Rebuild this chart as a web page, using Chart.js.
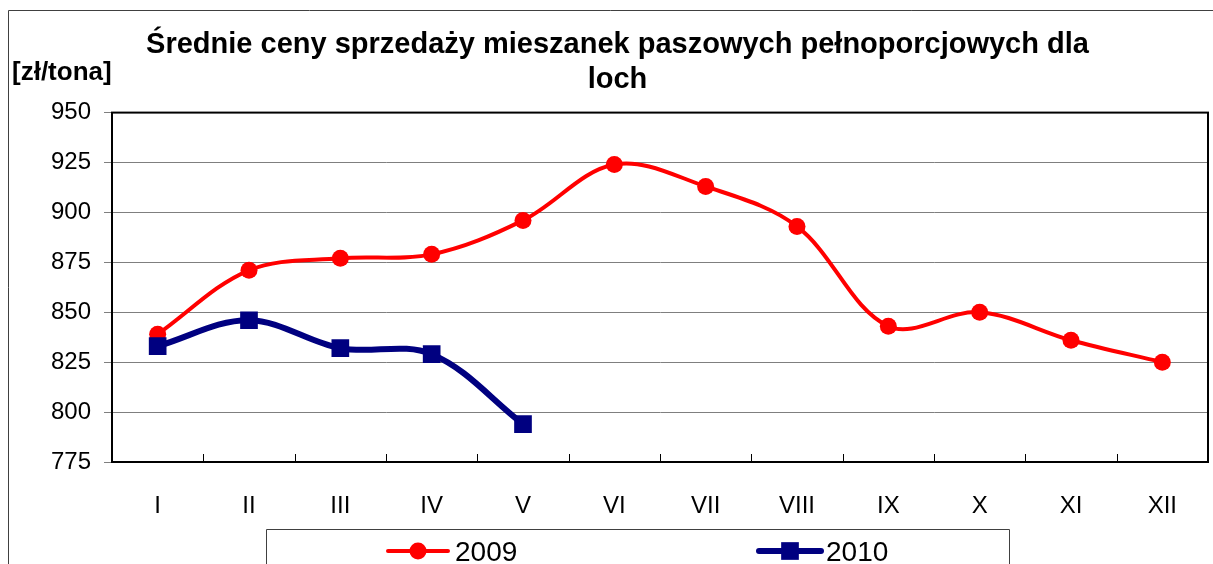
<!DOCTYPE html>
<html>
<head>
<meta charset="utf-8">
<script src="https://cdn.jsdelivr.net/npm/chart.js@4.4.1/dist/chart.umd.min.js"></script>
<style>
    html, body { margin: 0; padding: 0; background: #fff; }
    #wrap { position: relative; width: 1213px; height: 564px; }
</style>
</head>
<body>
<div id="wrap"><canvas id="priceChart"></canvas></div>
<script>
// dane (zł/tona)
const months = ['I', 'II', 'III', 'IV', 'V', 'VI', 'VII', 'VIII', 'IX', 'X', 'XI', 'XII'];
const prices2009 = [839, 871, 877, 879, 896, 924, 913, 893, 843, 850, 836, 825];
const prices2010 = [833, 846, 832, 829, 794, null, null, null, null, null, null, null];
const seriesNames = ['2009', '2010'];
const yMin = 775;
const yMax = 950;
const yStep = 25;

const FONT = "'Liberation Sans', Arial, sans-serif";

// ramka, opis osi, krótkie znaczniki osi X i legenda w ramce
const decorPlugin = {
    id: 'decor',
    beforeDraw(chart) {
        const ctx = chart.ctx;
        ctx.save();
        ctx.strokeStyle = '#404040';
        ctx.lineWidth = 1;
        ctx.beginPath();
        ctx.moveTo(8.5, chart.height);
        ctx.lineTo(8.5, 10.5);
        ctx.lineTo(chart.width, 10.5);
        ctx.stroke();

        ctx.fillStyle = '#000';
        ctx.font = 'bold 26px ' + FONT;
        ctx.textAlign = 'left';
        ctx.textBaseline = 'middle';
        ctx.fillText('[zł/tona]', 12, 73);
        ctx.restore();
    },
    beforeDatasetsDraw(chart) {
        const ctx = chart.ctx;
        const area = chart.chartArea;
        const x = chart.scales.x;
        ctx.save();
        ctx.strokeStyle = '#000';
        ctx.lineWidth = 1;
        const step = x.getPixelForTick(1) - x.getPixelForTick(0);
        ctx.beginPath();
        for (let i = 0; i <= months.length; i++) {
            const px = Math.round(x.getPixelForTick(0) - step / 2 + i * step) + 0.5;
            ctx.moveTo(px, area.bottom);
            ctx.lineTo(px, area.bottom - 8);
        }
        ctx.stroke();
        ctx.lineWidth = 2;
        ctx.strokeRect(area.left, area.top, area.right - area.left, area.bottom - area.top);
        ctx.restore();
    },
    afterDraw(chart) {
        const ctx = chart.ctx;
        ctx.save();
        ctx.strokeStyle = '#404040';
        ctx.lineWidth = 1;
        ctx.beginPath();
        ctx.moveTo(266.5, chart.height);
        ctx.lineTo(266.5, 529.5);
        ctx.lineTo(1009.5, 529.5);
        ctx.lineTo(1009.5, chart.height);
        ctx.stroke();

        const items = [
            { x0: 388, x1: 448, tx: 455 },
            { x0: 759, x1: 821, tx: 826 }
        ];
        const cy = 551;
        chart.data.datasets.forEach((ds, i) => {
            const it = items[i];
            ctx.strokeStyle = ds.borderColor;
            ctx.fillStyle = ds.borderColor;
            ctx.lineWidth = ds.borderWidth;
            ctx.lineCap = 'round';
            ctx.beginPath();
            ctx.moveTo(it.x0, cy);
            ctx.lineTo(it.x1, cy);
            ctx.stroke();
            const cx = (it.x0 + it.x1) / 2;
            if (ds.pointStyle === 'rect') {
                const s = ds.pointRadius * Math.SQRT1_2;
                ctx.fillRect(cx - s, cy - s, 2 * s, 2 * s);
            } else {
                ctx.beginPath();
                ctx.arc(cx, cy, ds.pointRadius, 0, Math.PI * 2);
                ctx.fill();
            }
            ctx.fillStyle = '#000';
            ctx.font = '28px ' + FONT;
            ctx.textAlign = 'left';
            ctx.textBaseline = 'middle';
            ctx.fillText(ds.label, it.tx, cy + 2);
        });
        ctx.restore();
    }
};

new Chart(document.getElementById('priceChart'), {
    type: 'line',
    data: {
        labels: months,
        datasets: [{
            label: seriesNames[0],
            data: prices2009,
            borderColor: '#ff0000',
            backgroundColor: '#ff0000',
            borderWidth: 4,
            pointStyle: 'circle',
            pointRadius: 8.5,
            pointBorderWidth: 0,
            tension: 0.35,
            order: 1
        }, {
            label: seriesNames[1],
            data: prices2010,
            borderColor: '#000080',
            backgroundColor: '#000080',
            borderWidth: 6,
            pointStyle: 'rect',
            pointRadius: 12.5,
            pointBorderWidth: 0,
            tension: 0.35,
            spanGaps: false,
            order: 0
        }]
    },
    options: {
        responsive: true,
        maintainAspectRatio: false,
        animation: false,
        layout: { autoPadding: false, padding: { left: 27, right: 5, top: 0, bottom: 0 } },
        plugins: {
            legend: { display: false },
            tooltip: { enabled: false },
            title: {
                display: true,
                text: ['Średnie ceny sprzedaży mieszanek paszowych pełnoporcjowych dla', 'loch'],
                color: '#000',
                font: { family: FONT, size: 29, weight: 'bold', lineHeight: 1.2 },
                padding: { top: 28, bottom: 15 }
            }
        },
        scales: {
            x: {
                offset: true,
                grid: { display: false },
                border: { display: false },
                ticks: { color: '#000', font: { family: FONT, size: 24 }, padding: 22, maxRotation: 0 },
                afterFit(scale) {
                    scale.height = 102;
                    scale.paddingLeft = 0;
                    scale.paddingRight = 0;
                }
            },
            y: {
                min: yMin,
                max: yMax,
                ticks: { stepSize: yStep, color: '#000', font: { family: FONT, size: 24 }, padding: 13 },
                grid: { color: '#7f7f7f', lineWidth: 1, tickLength: 8, tickColor: '#7f7f7f' },
                border: { color: '#000', width: 2 },
                afterFit(scale) {
                    scale.width = 85;
                    scale.paddingTop = 0;
                    scale.paddingBottom = 0;
                }
            }
        }
    },
    plugins: [decorPlugin]
});
</script>
</body>
</html>
